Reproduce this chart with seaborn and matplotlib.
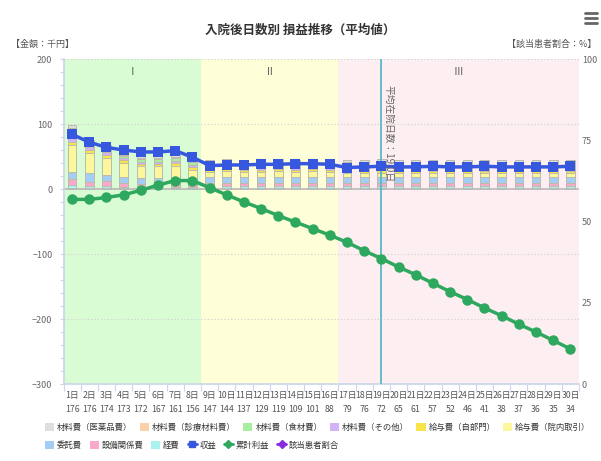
import numpy as np
import pandas as pd
import matplotlib
matplotlib.use("Agg")
import matplotlib.pyplot as plt
import seaborn as sns
from matplotlib.patches import Patch
from matplotlib.lines import Line2D
from matplotlib.ticker import MultipleLocator

# ---- data ----
days = ["1日", "2日", "3日", "4日", "5日", "6日", "7日", "8日", "9日", "10日",
        "11日", "12日", "13日", "14日", "15日", "16日", "17日", "18日", "19日", "20日",
        "21日", "22日", "23日", "24日", "25日", "26日", "27日", "28日", "29日", "30日"]
patients = [176, 176, 174, 173, 172, 167, 161, 156, 147, 144, 137, 129, 119, 109, 101,
            88, 79, 76, 72, 65, 61, 57, 52, 46, 41, 38, 37, 36, 35, 34]

yakuhin = [4, 3, 3, 3, 3, 3, 3, 3, 3, 3, 3, 3, 3, 3, 3, 3, 4, 4, 4, 4, 4, 4, 4, 4, 4, 4, 4, 4, 4, 4]
shinryo = [6, 3, 3, 2, 2, 2, 2, 2, 3, 3, 3, 3, 3, 3, 3, 3, 3, 3, 3, 3, 3, 3, 3, 3, 3, 3, 3, 3, 3, 3]
shokuzai = [8, 5, 4, 4, 4, 4, 4, 4, 4, 4, 4, 4, 4, 4, 4, 4, 5, 5, 5, 5, 5, 5, 5, 5, 5, 5, 5, 5, 5, 5]
sonota = [8, 5, 4, 3, 3, 3, 3, 3, 5, 5, 5, 5, 5, 5, 5, 5, 5, 5, 5, 5, 5, 5, 5, 5, 5, 5, 5, 5, 5, 5]
jibumon = [4, 5, 5, 4, 4, 4, 4, 4, 4, 4, 4, 4, 4, 4, 4, 4, 3, 3, 4, 3, 3, 3, 3, 3, 3, 3, 3, 3, 3, 3]
innai = [42, 31, 26, 21, 18, 18, 19, 15, 8, 9, 8, 8, 9, 8, 9, 8, 7, 7, 7, 7, 7, 7, 7, 7, 7, 7, 7, 7, 7, 7]
itaku = [11, 13, 10, 10, 9, 9, 9, 8, 9, 9, 9, 9, 9, 9, 9, 9, 9, 9, 9, 9, 9, 9, 9, 9, 9, 9, 9, 9, 9, 9]
setsubi = [9, 6, 8, 6, 5, 5, 5, 4, 4, 4, 4, 4, 4, 4, 4, 4, 4, 4, 4, 4, 4, 4, 4, 4, 4, 4, 4, 4, 4, 4]
keihi = [6, 5, 4, 3, 3, 3, 3, 3, 5, 5, 5, 5, 5, 5, 5, 5, 5, 5, 5, 5, 5, 5, 5, 5, 5, 5, 5, 5, 5, 5]

revenue = [84, 72, 64, 60, 57, 57, 59, 49, 36, 37, 37, 38, 38, 39, 39, 38,
           33, 34, 35, 34, 34, 35, 34, 34, 35, 34, 34, 34, 34, 35]
cum_profit = [-16, -16, -13, -9, -2, 6, 13, 13, 2, -9, -20, -30, -41, -51, -61, -71,
              -82, -95, -107, -120, -132, -145, -158, -170, -183, -195, -208, -220, -233, -246]

cost_names = ["材料費（医薬品費）", "材料費（診療材料費）", "材料費（食材費）", "材料費（その他）",
              "給与費（自部門）", "給与費（院内取引）", "委託費", "設備関係費", "経費"]
cost_colors = ["#dedede", "#fcd0a8", "#a8eea0", "#d4b2f7", "#f8e448",
               "#fcf79c", "#a4cdf5", "#fba8ca", "#aaf1ef"]
BLUE = "#3558de"
GREEN = "#2ea85e"
PURPLE = "#8a2be2"

costs = pd.DataFrame(dict(zip(cost_names, [yakuhin, shinryo, shokuzai, sonota, jibumon,
                                           innai, itaku, setsubi, keihi])))
# cumulative heights from the bottom of the stack (経費) upward
stacked = costs[cost_names[::-1]].cumsum(axis=1)

sns.set_theme(style="white")
plt.rcParams["font.family"] = ["Noto Sans CJK JP", "DejaVu Sans"]

fig = plt.figure(figsize=(6.01, 4.61), dpi=100)
ax = fig.add_axes([0.1057, 0.167, 0.8577, 0.705])

# background bands
ax.axvspan(-0.5, 7.5, color="#dafcd5", zorder=0, lw=0)
ax.axvspan(7.5, 15.5, color="#fefed8", zorder=0, lw=0)
ax.axvspan(15.5, 29.5, color="#fdeef1", zorder=0, lw=0)
for y in [200, 100, -100, -200]:
    ax.axhline(y, color="#cfcfcf", lw=0.8, ls=(0, (1, 2)), zorder=0.5)

# stacked cost bars (draw the tallest first, overdraw downward)
for name, col in zip(cost_names, cost_colors):
    sns.barplot(x=days, y=stacked[name].values, color=col, saturation=1, width=0.5,
                edgecolor="#bdbbab", linewidth=0.7, ax=ax, zorder=2)

ax.axhline(0, color="#b8b8b8", lw=1.2, zorder=2.5)

pos = np.arange(len(days))
sns.lineplot(x=pos, y=revenue, color=BLUE, lw=2.5, marker="s", markersize=7.5,
             markeredgewidth=0, ax=ax, zorder=4)
sns.lineplot(x=pos, y=cum_profit, color=GREEN, lw=2.5, marker="o", markersize=7.5,
             markeredgewidth=0, ax=ax, zorder=4)

# average length of stay
ax.axvline(18, color="#5ab8c6", lw=1.3, zorder=3)
ax.text(18.12, 160, "平均在院日数：19.0日", rotation=-90, ha="left", va="top",
        fontsize=7, color="#666666", zorder=5)

for xc, lab in [(3.5, "Ⅰ"), (11.5, "Ⅱ"), (22.5, "Ⅲ")]:
    ax.text(xc, 180, lab, ha="center", va="center", fontsize=7, color="#555555")

ax.set_xlim(-0.5, 29.5)
ax.set_ylim(-300, 200)
ax.set_xticks(pos)
ax.set_xticklabels([f"{d}\n{n}" for d, n in zip(days, patients)], linespacing=1.7)
ax.set_xticks(np.arange(-0.5, 30, 1), minor=True)
ax.set_yticks([-300, -200, -100, 0, 100, 200])
ax.yaxis.set_minor_locator(MultipleLocator(20))
ax.tick_params(axis="x", which="major", length=0, pad=5, labelsize=6.3, labelcolor="#555555")
ax.tick_params(axis="x", which="minor", length=5, width=0.8, color="#ccd6eb", bottom=True)
ax.tick_params(axis="y", which="both", length=3, width=0.8, color="#ccd6eb", left=True,
               labelsize=6.5, labelcolor="#666666", pad=5)
ax.set_xlabel("")
ax.set_ylabel("")
for s in ["top", "right"]:
    ax.spines[s].set_visible(False)
ax.spines["left"].set_color("#ccd6eb")
ax.spines["bottom"].set_color("#ccd6eb")

ax2 = ax.twinx()
ax2.set_ylim(0, 100)
ax2.set_yticks([0, 25, 50, 75, 100])
ax2.tick_params(axis="y", length=0, labelsize=6.5, labelcolor="#666666", pad=2)
for s in ax2.spines.values():
    s.set_visible(False)

# titles
fig.text(0.5, 1 - 30 / 461, "入院後日数別 損益推移（平均値）", ha="center", va="center",
         fontsize=9, fontweight="bold", color="#333333")
fig.text(11 / 601, 1 - 44 / 461, "【金額：千円】", ha="left", va="center", fontsize=6.5,
         color="#555555")
fig.text(596 / 601, 1 - 44 / 461, "【該当患者割合：%】", ha="right", va="center",
         fontsize=6.5, color="#555555")
for yy in [13, 18, 23]:
    fig.add_artist(Line2D([585 / 601, 597 / 601], [1 - yy / 461] * 2, color="#666666", lw=2))

# legend, two rows laid out separately
row1 = [Patch(facecolor=c, edgecolor="none") for c in cost_colors[:6]]
row2 = [Patch(facecolor=c, edgecolor="none") for c in cost_colors[6:]]
row2 += [Line2D([0], [0], color=BLUE, lw=2, marker="s", ms=5),
         Line2D([0], [0], color=GREEN, lw=2, marker="D", ms=4.5),
         Line2D([0], [0], color=PURPLE, lw=2, marker="D", ms=4.5)]
labels2 = cost_names[6:] + ["収益", "累計利益", "該当患者割合"]
common = dict(loc="center left", frameon=False, fontsize=6, handlelength=1.1,
              handleheight=1.1, handletextpad=0.35, columnspacing=0.9,
              borderaxespad=0, borderpad=0, labelcolor="#333333")
fig.legend(row1, cost_names[:6], bbox_to_anchor=(45 / 601, 1 - 427 / 461), ncol=6, **common)
fig.legend(row2, labels2, bbox_to_anchor=(45 / 601, 1 - 445 / 461), ncol=6, **common)

fig.savefig("out.png", dpi=100)
